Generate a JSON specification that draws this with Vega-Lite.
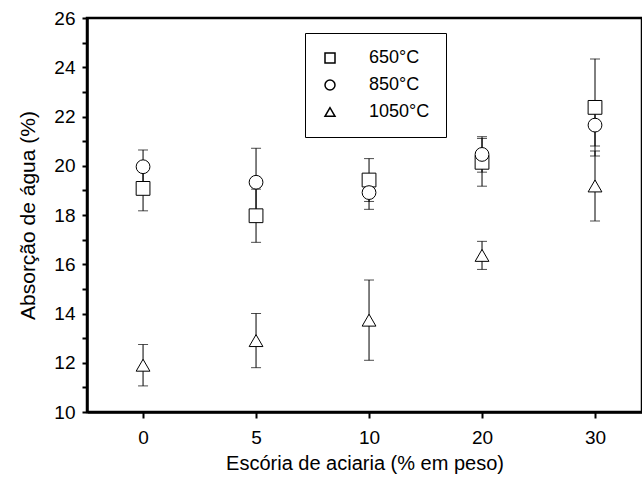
{
  "$schema": "https://vega.github.io/schema/vega-lite/v6.json",
  "width": 555,
  "height": 394,
  "autosize": "none",
  "padding": {"left": 87, "top": 18, "right": 0, "bottom": 83},
  "background": "white",
  "config": {"font": "Liberation Sans", "view": {"stroke": "black", "strokeWidth": 2.5}},
  "data": {"values": [
    {"escoria": 0, "serie": "650°C", "valor": 19.08, "erro": 0.91},
    {"escoria": 5, "serie": "650°C", "valor": 17.97, "erro": 1.08},
    {"escoria": 10, "serie": "650°C", "valor": 19.42, "erro": 0.87},
    {"escoria": 20, "serie": "650°C", "valor": 20.14, "erro": 0.97},
    {"escoria": 30, "serie": "650°C", "valor": 22.37, "erro": 1.97},
    {"escoria": 0, "serie": "850°C", "valor": 19.96, "erro": 0.68},
    {"escoria": 5, "serie": "850°C", "valor": 19.33, "erro": 1.38},
    {"escoria": 10, "serie": "850°C", "valor": 18.91, "erro": 0.68},
    {"escoria": 20, "serie": "850°C", "valor": 20.46, "erro": 0.72},
    {"escoria": 30, "serie": "850°C", "valor": 21.65, "erro": 0.85},
    {"escoria": 0, "serie": "1050°C", "valor": 11.9, "erro": 0.84},
    {"escoria": 5, "serie": "1050°C", "valor": 12.9, "erro": 1.1},
    {"escoria": 10, "serie": "1050°C", "valor": 13.73, "erro": 1.63},
    {"escoria": 20, "serie": "1050°C", "valor": 16.36, "erro": 0.57},
    {"escoria": 30, "serie": "1050°C", "valor": 19.18, "erro": 1.42}
  ]},
  "encoding": {
    "x": {
      "field": "escoria",
      "type": "ordinal",
      "scale": {"type": "point", "padding": 0.456, "align": 0.544},
      "axis": {
        "title": "Escória de aciaria (% em peso)",
        "titleFontSize": 20,
        "titleFontWeight": "normal",
        "titleColor": "black",
        "titlePadding": 6,
        "labelFontSize": 19,
        "labelColor": "black",
        "labelAngle": 0,
        "labelPadding": 10,
        "domainColor": "black",
        "domainWidth": 2.5,
        "tickColor": "black",
        "tickWidth": 2,
        "tickSize": 6,
        "grid": false
      }
    },
    "y": {
      "field": "valor",
      "type": "quantitative",
      "scale": {"domain": [10, 26], "nice": false, "zero": false},
      "axis": {
        "title": "Absorção de água (%)",
        "titleFontSize": 21,
        "titleFontWeight": "normal",
        "titleColor": "black",
        "titlePadding": 15,
        "values": [10, 11, 12, 13, 14, 15, 16, 17, 18, 19, 20, 21, 22, 23, 24, 25, 26],
        "labelExpr": "datum.value % 2 == 0 ? datum.label : ''",
        "labelFontSize": 19,
        "labelColor": "black",
        "labelPadding": 7,
        "domainColor": "black",
        "domainWidth": 2.5,
        "tickColor": "black",
        "tickWidth": 2,
        "tickSize": 5,
        "grid": false
      }
    }
  },
  "layer": [
    {
      "mark": {"type": "errorbar", "color": "black", "thickness": 1, "ticks": {"size": 10, "color": "black", "thickness": 1}},
      "encoding": {
        "yError": {"field": "erro"},
        "detail": {"field": "serie"}
      }
    },
    {
      "mark": {"type": "point", "filled": true, "fill": "white", "stroke": "black", "strokeWidth": 1, "size": 190, "opacity": 1},
      "encoding": {
        "shape": {
          "field": "serie",
          "type": "nominal",
          "scale": {"domain": ["650°C", "850°C", "1050°C"], "range": ["square", "circle", "triangle-up"]},
          "legend": {
            "title": null,
            "orient": "none",
            "legendX": 218,
            "legendY": 15,
            "strokeColor": "black",
            "fillColor": "white",
            "padding": 16,
            "rowPadding": 9,
            "symbolSize": 100,
            "labelOffset": 30,
            "labelFontSize": 18,
            "labelColor": "black"
          }
        }
      }
    }
  ]
}
